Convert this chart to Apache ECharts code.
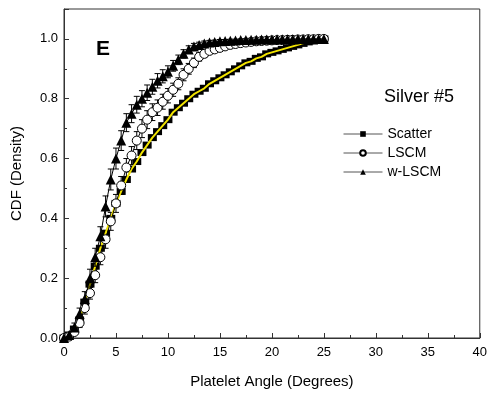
<!DOCTYPE html>
<html>
<head>
<meta charset="utf-8">
<script src="https://cdn.jsdelivr.net/npm/echarts@6/dist/echarts.min.js"></script>
<style>
  html, body { margin: 0; padding: 0; background: #fff; }
  #main { width: 490px; height: 398px; }
</style>
</head>
<body>
<div id="main"></div>
<script>
// platelet angle (degrees), sampled every 0.5
const angles = [
  0, 0.5, 1, 1.5, 2, 2.5, 3, 3.5, 4, 4.5, 5, 5.5, 6, 6.5, 7, 7.5, 8, 8.5, 9, 9.5,
  10, 10.5, 11, 11.5, 12, 12.5, 13, 13.5, 14, 14.5, 15, 15.5, 16, 16.5, 17, 17.5,
  18, 18.5, 19, 19.5, 20, 20.5, 21, 21.5, 22, 22.5, 23, 23.5, 24, 24.5, 25
];
const scatterCdf = [
  0, 0.01, 0.03, 0.06, 0.12, 0.18, 0.24, 0.30, 0.35, 0.40, 0.45, 0.49, 0.53, 0.565,
  0.59, 0.62, 0.645, 0.67, 0.69, 0.71, 0.73, 0.755, 0.77, 0.785, 0.80, 0.815, 0.825,
  0.835, 0.85, 0.86, 0.87, 0.88, 0.89, 0.90, 0.91, 0.92, 0.925, 0.935, 0.94, 0.95,
  0.955, 0.96, 0.965, 0.97, 0.975, 0.98, 0.985, 0.99, 0.993, 0.997, 1.0
];
const lscmCdf = [
  0, 0.005, 0.02, 0.05, 0.10, 0.15, 0.21, 0.27, 0.33, 0.39, 0.45, 0.51, 0.57, 0.61,
  0.66, 0.70, 0.73, 0.755, 0.77, 0.79, 0.81, 0.83, 0.85, 0.88, 0.90, 0.92, 0.94,
  0.95, 0.96, 0.965, 0.97, 0.975, 0.98, 0.983, 0.986, 0.988, 0.99, 0.992, 0.993,
  0.994, 0.995, 0.996, 0.996, 0.997, 0.997, 0.998, 0.998, 0.999, 0.999, 1.0, 1.0
];
const wlscmCdf = [
  0, 0.01, 0.035, 0.08, 0.13, 0.20, 0.27, 0.34, 0.44, 0.53, 0.60, 0.66, 0.72, 0.75,
  0.78, 0.80, 0.82, 0.84, 0.86, 0.875, 0.89, 0.91, 0.93, 0.95, 0.965, 0.975, 0.98,
  0.985, 0.988, 0.99, 0.992, 0.993, 0.994, 0.995, 0.996, 0.996, 0.997, 0.997, 0.998,
  0.998, 0.998, 0.999, 0.999, 0.999, 0.999, 1, 1, 1, 1, 1, 1
];
// error bar half-heights
const lscmErr = [
  0, 0.005, 0.01, 0.015, 0.02, 0.02, 0.025, 0.025, 0.03, 0.03, 0.03, 0.03, 0.03,
  0.03, 0.03, 0.03, 0.03, 0.028, 0.026, 0.025, 0.024, 0.022, 0.02, 0.02, 0.018,
  0.016, 0.014, 0.012, 0.01, 0.01, 0.008, 0.008, 0.007, 0.006, 0.006, 0.005, 0.005,
  0.004, 0.004, 0.004, 0.003, 0.003, 0.003, 0.003, 0.002, 0.002, 0.002, 0.002,
  0.001, 0.001, 0
];
const wlscmErr = [
  0, 0.008, 0.015, 0.02, 0.025, 0.03, 0.03, 0.032, 0.035, 0.035, 0.035, 0.033,
  0.03, 0.03, 0.028, 0.027, 0.026, 0.025, 0.024, 0.022, 0.02, 0.018, 0.016, 0.014,
  0.012, 0.01, 0.009, 0.008, 0.007, 0.006, 0.006, 0.005, 0.005, 0.004, 0.004,
  0.004, 0.003, 0.003, 0.003, 0.003, 0.002, 0.002, 0.002, 0.002, 0.002, 0.001,
  0.001, 0.001, 0.001, 0, 0
];
const seriesNames = ["Scatter", "LSCM", "w-LSCM"];

const font = "Liberation Sans, Arial, sans-serif";
const pairs = (ys) => angles.map((x, i) => [x, ys[i]]);
const triples = (ys, es) => angles.map((x, i) => [x, ys[i], es[i]]);

function errorBars(params, api) {
  const x = api.value(0);
  const y = api.value(1);
  const e = api.value(2);
  const hi = api.coord([x, y + e]);
  const lo = api.coord([x, y - e]);
  const w = 3;
  const style = { stroke: "#000", lineWidth: 1 };
  return {
    type: "group",
    children: [
      { type: "line", shape: { x1: hi[0], y1: hi[1], x2: lo[0], y2: lo[1] }, style },
      { type: "line", shape: { x1: hi[0] - w, y1: hi[1], x2: hi[0] + w, y2: hi[1] }, style },
      { type: "line", shape: { x1: lo[0] - w, y1: lo[1], x2: lo[0] + w, y2: lo[1] }, style },
    ],
  };
}

const chart = echarts.init(document.getElementById("main"));

const option = {
  animation: false,
  textStyle: { fontFamily: font },
  title: [
    {
      text: "E",
      left: 91,
      top: 34,
      textStyle: { fontSize: 21, fontWeight: "bold", color: "#000", fontFamily: font },
    },
    {
      text: "Silver #5",
      left: 379,
      top: 83,
      textStyle: { fontSize: 18, fontWeight: "normal", color: "#000", fontFamily: font },
    },
  ],
  legend: {
    data: seriesNames,
    orient: "vertical",
    left: 338,
    top: 122,
    itemWidth: 39,
    itemHeight: 7,
    itemGap: 5,
    lineStyle: { color: "#555", width: 1 },
    textStyle: { fontSize: 14, color: "#000", fontFamily: font },
  },
  grid: {
    left: 64,
    right: 9,
    top: 9,
    bottom: 60,
    show: true,
    borderColor: "#333",
    borderWidth: 1,
  },
  xAxis: {
    type: "value",
    min: 0,
    max: 40,
    interval: 5,
    name: "Platelet Angle (Degrees)",
    nameLocation: "middle",
    nameGap: 36,
    nameTextStyle: { fontSize: 15, color: "#000" },
    axisLine: { lineStyle: { color: "#333" } },
    axisTick: { inside: true, length: 5, lineStyle: { color: "#333" } },
    minorTick: { show: true, splitNumber: 2, length: 3, lineStyle: { color: "#333" } },
    axisLabel: { fontSize: 13, color: "#000", margin: 8 },
    splitLine: { show: false },
  },
  yAxis: {
    type: "value",
    min: 0,
    max: 1.1,
    interval: 0.2,
    name: "CDF (Density)",
    nameLocation: "middle",
    nameGap: 40,
    nameTextStyle: { fontSize: 15, color: "#000" },
    axisLine: { lineStyle: { color: "#333" } },
    axisTick: { inside: true, length: 5, lineStyle: { color: "#333" } },
    minorTick: { show: true, splitNumber: 2, length: 3, lineStyle: { color: "#333" } },
    axisLabel: {
      fontSize: 13,
      color: "#000",
      margin: 6,
      showMaxLabel: false,
      formatter: (v) => v.toFixed(1),
    },
    splitLine: { show: false },
  },
  series: [
    {
      name: "Scatter",
      type: "line",
      data: pairs(scatterCdf),
      symbol: "rect",
      symbolSize: [9, 7],
      itemStyle: { color: "#000" },
      lineStyle: { color: "#000", width: 1 },
      z: 2,
    },
    {
      name: "Scatter-fit",
      type: "line",
      data: pairs(scatterCdf),
      showSymbol: false,
      symbol: "none",
      lineStyle: { color: "#f2e400", width: 2 },
      z: 3,
      silent: true,
    },
    {
      name: "LSCM-err",
      type: "custom",
      data: triples(lscmCdf, lscmErr),
      renderItem: errorBars,
      z: 3,
      silent: true,
    },
    {
      name: "LSCM",
      type: "line",
      data: pairs(lscmCdf),
      symbol: "circle",
      symbolSize: 9,
      itemStyle: { color: "#fff", borderColor: "#000", borderWidth: 1 },
      lineStyle: { color: "#000", width: 1 },
      z: 4,
    },
    {
      name: "w-LSCM-err",
      type: "custom",
      data: triples(wlscmCdf, wlscmErr),
      renderItem: errorBars,
      z: 4,
      silent: true,
    },
    {
      name: "w-LSCM",
      type: "line",
      data: pairs(wlscmCdf),
      symbol: "triangle",
      symbolSize: 10,
      itemStyle: { color: "#000" },
      lineStyle: { color: "#000", width: 1 },
      z: 5,
    },
  ],
};

chart.setOption(option);
</script>
</body>
</html>
